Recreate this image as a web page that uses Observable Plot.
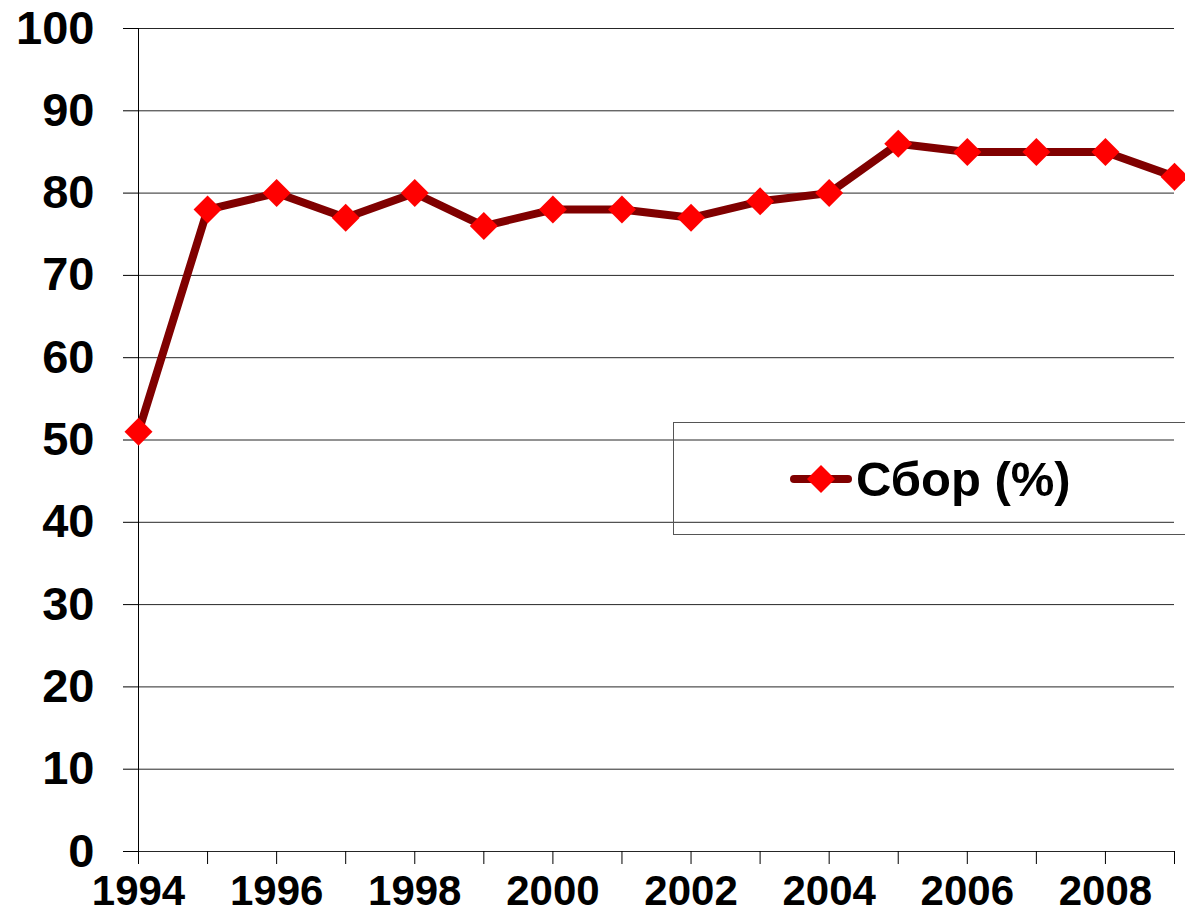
<!DOCTYPE html>
<html>
<head>
<meta charset="utf-8">
<script src="https://cdn.jsdelivr.net/npm/d3@7"></script>
<script src="https://cdn.jsdelivr.net/npm/@observablehq/plot@0.6"></script>
<style>
  html, body { margin: 0; padding: 0; background: #fff; }
  #wrap { position: relative; width: 1185px; height: 913px; overflow: hidden; font-family: "Liberation Sans", Arial, sans-serif; }
  #legend { position: absolute; left: 673px; top: 422px; width: 600px; height: 113px; border: 1px solid #555; box-sizing: border-box; }
  #legend .item { position: absolute; left: 116px; top: 28px; display: flex; align-items: center; font-weight: bold; font-size: 49px; color: #000; white-space: nowrap; }
</style>
</head>
<body>
<div id="wrap"></div>
<script>
const years = [1994,1995,1996,1997,1998,1999,2000,2001,2002,2003,2004,2005,2006,2007,2008,2009];
const values = [51,78,80,77,80,76,78,78,77,79,80,86,85,85,85,82];
const yTicks = [0,10,20,30,40,50,60,70,80,90,100];
const seriesName = "Сбор (%)";
const lineColor = "#800000";
const markerColor = "#ff0000";

const data = years.map((y, i) => ({year: y, value: values[i]}));

const chart = Plot.plot({
  width: 1185,
  height: 913,
  marginLeft: 138,
  marginRight: 11,
  marginTop: 28,
  marginBottom: 62,
  style: {fontFamily: "Liberation Sans, Arial, sans-serif", background: "transparent", overflow: "visible"},
  x: {type: "linear", domain: [1994, 2009]},
  y: {domain: [0, 100]},
  marks: [
    Plot.gridY(yTicks, {stroke: "#000", strokeOpacity: 0.85, strokeWidth: 1}),
    Plot.axisY(yTicks, {tickSize: 15, tickPadding: 29, fontSize: 47, fontWeight: "bold", fill: "#000", stroke: "#000", label: null, tickFormat: d => String(d)}),
    Plot.axisX(years, {tickSize: 13, tickPadding: 11, fontSize: 42, fontWeight: "bold", fill: "#000", stroke: "#000", label: null, tickFormat: d => d % 2 === 0 ? String(d) : ""}),
    Plot.ruleX([1994], {stroke: "#000", strokeWidth: 1}),
    Plot.line(data, {x: "year", y: "value", stroke: lineColor, strokeWidth: 8, strokeLinejoin: "miter"}),
    Plot.dot(data, {x: "year", y: "value", symbol: "diamond2", r: 12.6, fill: markerColor, stroke: "none"})
  ]
});
document.getElementById("wrap").appendChild(chart);

const legend = document.createElement("div");
legend.id = "legend";
legend.innerHTML = `<div class="item"><svg width="62" height="30" style="margin-right:4px"><line x1="4" y1="15" x2="58" y2="15" stroke="${lineColor}" stroke-width="8" stroke-linecap="round"/><path d="M31,1 L45,15 L31,29 L17,15 Z" fill="${markerColor}"/></svg><span>${seriesName}</span></div>`;
document.getElementById("wrap").appendChild(legend);
</script>
</body>
</html>
